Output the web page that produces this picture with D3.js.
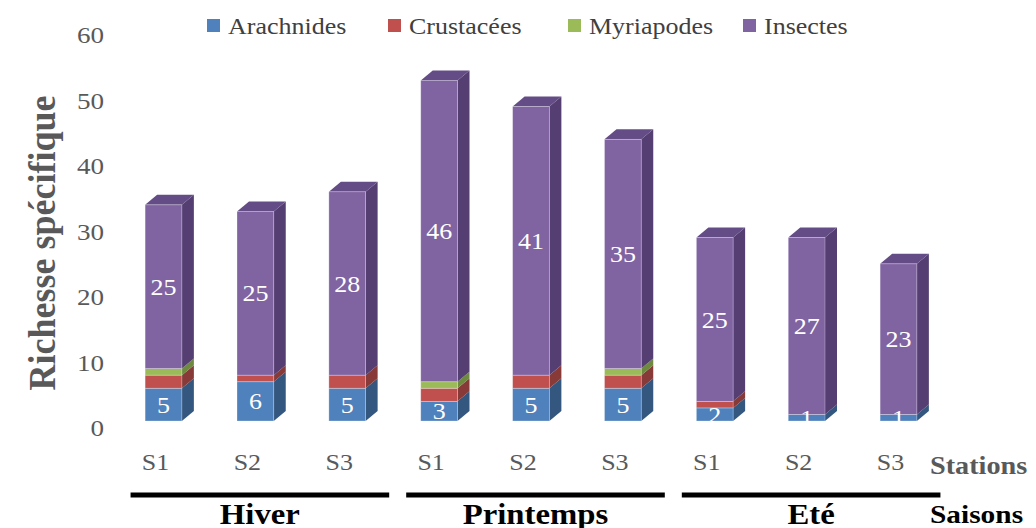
<!DOCTYPE html>
<html><head><meta charset="utf-8">
<script src="https://cdn.jsdelivr.net/npm/d3@7"></script>
<style>body{margin:0;background:#fff}svg{display:block}text{font-family:"Liberation Serif","Times New Roman",serif}</style>
</head><body>
<svg id="c" width="1036" height="528"></svg>
<script>
const stations = ["S1","S2","S3","S1","S2","S3","S1","S2","S3"];
const seasons = ["Hiver","Hiver","Hiver","Printemps","Printemps","Printemps","Eté","Eté","Eté"];
const seasonNames = ["Hiver","Printemps","Eté"];
const seriesNames = ["Arachnides","Crustacées","Myriapodes","Insectes"];
const arachnides = [5,6,5,3,5,5,2,1,1];
const crustacees = [2,1,2,2,2,2,1,0,0];
const myriapodes = [1,0,0,1,0,1,0,0,0];
const insectes   = [25,25,28,46,41,35,25,27,23];
const labelledSeries = ["Arachnides","Insectes"];
const yTicks = [0,10,20,30,40,50,60];
const frontColors = ["#4F81BD","#C0504D","#9BBB59","#8064A2"];
const sideColors  = ["#34577F","#873A38","#6E8A3E","#553F72"];
const topColors   = ["#4672A8","#A94543","#88A64D","#644C86"];

const SX = 1.13; // horizontal stretch of the reference's text
const svg = d3.select("#c");
const keys = stations.map((s,i)=>i);
const values = [arachnides, crustacees, myriapodes, insectes];
const rows = keys.map(i => { const r = {i}; seriesNames.forEach((n,k)=> r[n]=values[k][i]); return r; });
const stack = d3.stack().keys(seriesNames)(rows);

const x = d3.scaleBand().domain(keys).range([90, 972]).paddingInner(0.6).paddingOuter(0.6);
const y = d3.scaleLinear().domain([0,60]).range([421, 28]);
const dx = 12, dy = 10;
const bw = x.bandwidth();

function txt(parent, X, Y, s, opts) {
  const t = parent.append("text").attr("transform",`translate(${X},${Y}) scale(${SX},1)`)
    .attr("dy","0.35em").text(s);
  Object.entries(opts||{}).forEach(([k,v])=>t.attr(k,v));
  return t;
}

// y tick labels (through an axis, no line)
const yAxis = d3.axisLeft(y).tickValues(yTicks).tickSize(0).tickPadding(0);
const ga = svg.append("g").attr("transform","translate(104,7)").call(yAxis);
ga.select(".domain").remove();
ga.selectAll("text").attr("font-size",24).attr("fill","#595959")
  .attr("font-family","Liberation Serif").attr("transform",`scale(${SX},1)`);

// y title
svg.append("text").attr("transform","translate(42,243) rotate(-90) scale(1,1.05)")
  .attr("text-anchor","middle").attr("font-size",36).attr("font-weight","bold")
  .attr("dy","0.35em").attr("fill","#595959").text("Richesse spécifique");

// bars
const gBars = svg.append("g");
stack.forEach((layer,k)=>{
  layer.forEach((d,j)=>{
    const v = d[1]-d[0];
    if (v <= 0) return;
    const x0 = x(j), x1 = x0 + bw, yt = y(d[1]), yb = y(d[0]);
    const g = gBars.append("g");
    g.append("path").attr("d",`M${x1},${yb}L${x1+dx},${yb-dy}L${x1+dx},${yt-dy}L${x1},${yt}Z`)
      .attr("fill",sideColors[k]);
    let isTop = true;
    for (let m=k+1;m<stack.length;m++) if (stack[m][j][1]-stack[m][j][0]>0) isTop=false;
    if (isTop) g.append("path").attr("d",`M${x0},${yt}L${x0+dx},${yt-dy}L${x1+dx},${yt-dy}L${x1},${yt}Z`)
      .attr("fill",topColors[k]);
    g.append("rect").attr("x",x0).attr("y",yt).attr("width",bw).attr("height",yb-yt)
      .attr("fill",frontColors[k]).attr("stroke","rgba(255,255,255,0.35)").attr("stroke-width",0.8);
  });
});
// data labels
const gLab = svg.append("g");
stack.forEach((layer,k)=>{
  if (!labelledSeries.includes(seriesNames[k])) return;
  layer.forEach((d,j)=>{
    const v = d[1]-d[0];
    if (v<=0) return;
    txt(gLab, x(j)+bw/2, (y(d[0])+y(d[1]))/2, v,
      {"text-anchor":"middle","font-size":23,"fill":"#fff"});
  });
});

// station labels
const gSt = svg.append("g");
keys.forEach(d=>txt(gSt, x(d)+bw/2-8, 462, stations[d],
  {"text-anchor":"middle","font-size":23,"fill":"#595959"}));
txt(svg, 930, 465, "Stations", {"font-size":25,"font-weight":"bold","fill":"#595959"});

// season groups
const step = x.step();
seasonNames.forEach(sn=>{
  const idx = keys.filter(i=>seasons[i]===sn);
  const left = x(idx[0]) + bw/2 - step/2 + 13;
  const right = x(idx[idx.length-1]) + bw/2 + step/2 - 4;
  svg.append("line").attr("x1",left).attr("x2",right).attr("y1",495).attr("y2",495)
    .attr("stroke","#000").attr("stroke-width",5);
  txt(svg, (left+right)/2, 514, sn,
    {"text-anchor":"middle","font-size":29,"font-weight":"bold","fill":"#000"});
});
txt(svg, 930, 514, "Saisons", {"font-size":26,"font-weight":"bold","fill":"#000"});

// legend
const legX = [207,388,568,743];
const lg = svg.append("g");
seriesNames.forEach((n,k)=>{
  lg.append("rect").attr("x",legX[k]).attr("y",19).attr("width",13).attr("height",13).attr("fill",frontColors[k]);
  txt(lg, legX[k]+21, 26, n, {"font-size":23,"fill":"#404040"});
});
</script>
</body></html>
